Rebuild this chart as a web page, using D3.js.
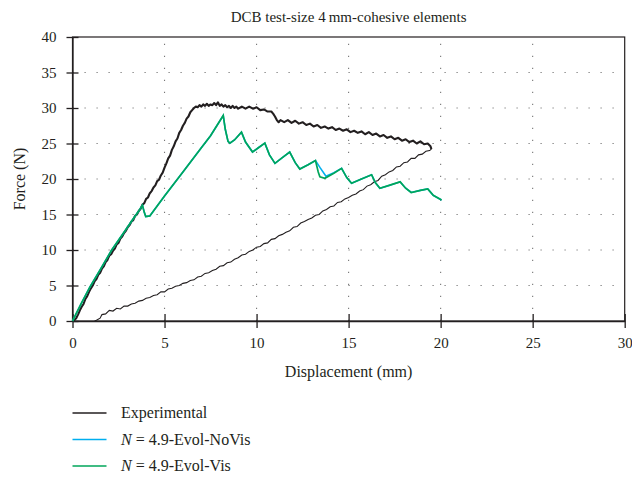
<!DOCTYPE html>
<html><head><meta charset="utf-8">
<script src="https://cdn.jsdelivr.net/npm/d3@7"></script>
<style>body{margin:0;background:#fff}svg{display:block}text{font-family:"Liberation Serif","DejaVu Serif",serif;fill:#231f20}</style>
</head><body>
<svg id="c" width="632" height="478"></svg>
<script>
const title = "DCB test-size 4\u2009mm-cohesive elements";
const xTicks = [0,5,10,15,20,25,30];
const yTicks = [0,5,10,15,20,25,30,35,40];
const seriesNames = ["Experimental","N = 4.9-Evol-NoVis","N = 4.9-Evol-Vis"];

// Experimental: loading + softening (noisy, thick)
const expLoadX = [0.05,0.2,0.3,0.4,0.5,0.6,0.7,0.8,0.9,1.0,1.1,1.2,1.3,1.4,1.5,1.6,1.7,1.8,1.9,2.0,2.1,2.2,2.3,2.4,2.5,2.6,2.7,2.8,2.9,3.0,3.1,3.2,3.3,3.4,3.5,3.6,3.7,3.8,3.9,4.0,4.1,4.2,4.3,4.4,4.5,4.6,4.7,4.8,4.9,5.0,5.1,5.2,5.3,5.4,5.5,5.6,5.7,5.8,5.9,6.0,6.1,6.2,6.3,6.4,6.5,6.6,6.7,6.8,6.9,7.0,7.1,7.2,7.3,7.4,7.5,7.6,7.7,7.8,7.9,8.0,8.1,8.2,8.3,8.4,8.5,8.6,8.7,8.8,8.9,9.0,9.2,9.4,9.6,9.8,10.0,10.2,10.4,10.6,10.8,10.9,11.0,11.1,11.2,11.3,11.5,11.7,11.9,12.1,12.3,12.5,12.7,12.9,13.1,13.3,13.5,13.7,13.9,14.1,14.3,14.5,14.7,14.9,15.1,15.3,15.5,15.7,15.9,16.1,16.3,16.5,16.7,16.9,17.1,17.3,17.5,17.7,17.9,18.1,18.3,18.5,18.7,18.9,19.1,19.3,19.45,19.5];
const expLoadY = [0,0.4,0.9,1.5,2.0,2.4,3.1,3.5,4.1,4.6,5.0,5.6,5.9,6.5,6.8,7.4,7.7,8.3,8.6,9.2,9.4,9.9,10.2,10.8,11.0,11.6,11.9,12.4,12.7,13.2,13.5,14.0,14.2,14.8,15.0,15.5,15.8,16.4,16.6,17.2,17.4,18.0,18.3,18.8,19.1,19.7,19.9,20.5,20.9,21.6,22.2,22.9,23.3,24.1,24.6,25.3,25.7,26.5,26.9,27.5,27.9,28.5,28.8,29.4,29.7,30.0,30.2,30.1,30.4,30.2,30.5,30.3,30.6,30.3,30.5,30.4,30.7,30.4,30.8,30.3,30.5,30.2,30.4,30.1,30.3,30.0,30.3,30.0,30.2,29.9,30.2,29.9,30.2,29.9,30.1,29.7,29.8,29.5,29.5,29.2,28.8,28.3,28.0,28.3,28.0,28.3,27.9,28.2,27.8,28.0,27.6,27.8,27.4,27.6,27.2,27.4,27.1,27.3,26.9,27.1,26.8,27.0,26.6,26.8,26.5,26.7,26.3,26.6,26.2,26.4,26.0,26.2,25.8,26.0,25.6,25.8,25.4,25.6,25.2,25.4,25.0,25.3,24.9,25.0,24.6,24.2];
// Experimental: unloading (thin)
const expUnX = [19.5,19.4,19.2,19.0,18.8,18.6,18.4,18.2,18.0,17.8,17.6,17.4,17.2,17.0,16.8,16.6,16.4,16.2,16.0,15.8,15.6,15.4,15.2,15.0,14.8,14.6,14.4,14.2,14.0,13.8,13.6,13.4,13.2,13.0,12.8,12.6,12.4,12.2,12.0,11.8,11.6,11.4,11.2,11.0,10.8,10.6,10.4,10.2,10.0,9.8,9.6,9.4,9.2,9.0,8.8,8.6,8.4,8.2,8.0,7.8,7.6,7.4,7.2,7.0,6.8,6.6,6.4,6.2,6.0,5.8,5.6,5.4,5.2,5.0,4.8,4.6,4.4,4.2,4.0,3.8,3.6,3.4,3.2,3.0,2.8,2.6,2.4,2.2,2.0,1.8,1.6,1.5,1.3,1.2];
const expUnY = [24.2,24.0,23.9,23.5,23.4,22.9,22.9,22.4,22.3,21.8,21.7,21.2,21.0,20.6,20.4,19.8,19.6,19.2,19.0,18.5,18.3,17.9,17.7,17.4,17.2,16.8,16.7,16.2,16.1,15.7,15.5,15.0,14.9,14.5,14.3,14.0,13.8,13.3,13.2,12.7,12.5,12.2,12.0,11.6,11.5,11.0,10.9,10.5,10.4,10.0,9.8,9.4,9.3,8.9,8.7,8.3,8.2,7.8,7.7,7.3,7.1,6.8,6.7,6.3,6.2,5.8,5.7,5.4,5.3,5.0,4.9,4.6,4.5,4.1,4.1,3.7,3.6,3.3,3.2,2.9,2.8,2.5,2.4,2.1,2.1,1.7,1.8,1.4,1.5,1.0,0.9,0.4,0.1,0];

// N = 4.9-Evol-Vis
const visX = [0,0.5,0.95,1.5,2.13,2.8,3.3,3.6,3.8,3.9,3.98,4.2,5.0,6.0,7.0,7.5,8.19,8.3,8.45,8.55,8.8,9.18,9.4,9.78,10.1,10.45,10.7,11.0,11.4,11.8,12.1,12.35,12.8,13.2,13.35,13.44,13.71,14.2,14.62,14.9,15.16,15.7,16.25,16.45,16.7,17.2,17.8,18.1,18.4,18.9,19.3,19.6,20.05];
const visY = [0,2.6,4.8,7.2,10.0,12.5,14.4,15.5,16.3,15.3,14.7,14.8,17.6,21.0,24.4,26.1,28.95,27.0,25.3,25.05,25.5,26.6,25.2,23.8,24.4,25.05,23.4,22.2,23.0,23.8,22.3,21.4,22.0,22.6,21.0,20.3,20.1,20.8,21.5,20.2,19.4,20.0,20.6,19.5,18.7,19.1,19.6,18.7,18.1,18.4,18.6,17.7,17.05];
// N = 4.9-Evol-NoVis
const noVisX = [0,0.5,0.95,1.5,2.13,2.8,3.3,3.6,3.8,3.9,3.98,4.2,5.0,6.0,7.0,7.5,8.19,8.3,8.45,8.55,8.8,9.18,9.4,9.78,10.1,10.45,10.7,11.0,11.4,11.8,12.1,12.35,12.8,13.2,13.45,13.77,14.2,14.62,14.9,15.16,15.7,16.25,16.45,16.7,17.2,17.8,18.1,18.4,18.9,19.3,19.6,20.05];
const noVisY = [0,2.6,4.8,7.2,10.0,12.5,14.4,15.5,16.3,15.3,14.7,14.8,17.6,21.0,24.4,26.1,28.95,27.0,25.3,25.05,25.5,26.6,25.2,23.8,24.4,25.05,23.4,22.2,23.0,23.8,22.3,21.4,22.0,22.6,21.6,20.4,20.9,21.5,20.2,19.4,20.0,20.6,19.5,18.7,19.1,19.6,18.7,18.1,18.4,18.6,17.7,17.05];

const colors = {exp:"#231f20", noVis:"#00aeef", vis:"#00a65a"};

const svg = d3.select("#c");
const L=72.5, R=624.7, T=37, B=321;
const x = d3.scaleLinear().domain([0,30]).range([L,R]);
const y = d3.scaleLinear().domain([0,40]).range([B,T]);

// grid
const g = svg.append("g");
g.selectAll(".gx").data(xTicks.filter(d=>d>0&&d<30)).join("line")
  .attr("x1",d=>x(d)).attr("x2",d=>x(d)).attr("y1",B).attr("y2",T)
  .attr("stroke","#777").attr("stroke-width",1.1).attr("stroke-dasharray","1.2,10.8");
g.selectAll(".gy").data(yTicks.filter(d=>d>0&&d<40)).join("line")
  .attr("y1",d=>y(d)).attr("y2",d=>y(d)).attr("x1",L).attr("x2",R)
  .attr("stroke","#777").attr("stroke-width",1.1).attr("stroke-dasharray","1.2,10.8");

// frame
svg.append("rect").attr("x",L).attr("y",T).attr("width",R-L).attr("height",B-T)
  .attr("fill","none").attr("stroke","#231f20").attr("stroke-width",1.2);

// axes
const xAxis = d3.axisBottom(x).tickValues(xTicks).tickSize(7).tickPadding(9).tickSizeOuter(0);
const ax = svg.append("g").attr("transform",`translate(0,${B})`).call(xAxis);
ax.select(".domain").attr("stroke","#231f20").attr("stroke-width",1.3);
ax.selectAll(".tick line").attr("y1",-7).attr("stroke","#231f20").attr("stroke-width",1.3);
ax.selectAll("text").attr("font-size",15).attr("font-family","Liberation Serif").attr("fill","#231f20");

const yAxis = d3.axisLeft(y).tickValues(yTicks).tickSize(6).tickPadding(10).tickSizeOuter(0);
const ay = svg.append("g").attr("transform",`translate(${L},0)`).call(yAxis);
ay.select(".domain").attr("stroke","#231f20").attr("stroke-width",1.3);
ay.selectAll(".tick line").attr("x2",-6).attr("x1",6).attr("stroke","#231f20").attr("stroke-width",1.3);
ay.selectAll("text").attr("font-size",15).attr("font-family","Liberation Serif").attr("fill","#231f20");

// curves
const line = d3.line().x(d=>x(d[0])).y(d=>y(d[1]));
const zip = (a,b)=>a.map((v,i)=>[v,b[i]]);
const plot = svg.append("g");
plot.append("path").attr("d",line(zip(expUnX,expUnY))).attr("fill","none").attr("stroke",colors.exp).attr("stroke-width",1.1);
plot.append("path").attr("d",line(zip(expLoadX,expLoadY))).attr("fill","none").attr("stroke",colors.exp).attr("stroke-width",2.1).attr("stroke-linejoin","round");
plot.append("path").attr("d",line(zip(noVisX,noVisY))).attr("fill","none").attr("stroke",colors.noVis).attr("stroke-width",1.6);
plot.append("path").attr("d",line(zip(visX,visY))).attr("fill","none").attr("stroke",colors.vis).attr("stroke-width",1.7);

// title & labels
svg.append("text").attr("x",(L+R)/2).attr("y",22).attr("text-anchor","middle").attr("font-size",15).text(title);
svg.append("text").attr("x",(L+R)/2).attr("y",377).attr("text-anchor","middle").attr("font-size",16).text("Displacement (mm)");
svg.append("text").attr("transform",`translate(25,${(T+B)/2}) rotate(-90)`).attr("text-anchor","middle").attr("font-size",16).text("Force (N)");

// legend
const leg = svg.append("g");
const legColors = [colors.exp, colors.noVis, colors.vis];
seriesNames.forEach((name,i)=>{
  const yy = 413 + i*26.5;
  leg.append("line").attr("x1",72.5).attr("x2",106.5).attr("y1",yy).attr("y2",yy).attr("stroke",legColors[i]).attr("stroke-width",1.3);
  const t = leg.append("text").attr("x",121).attr("y",yy+5).attr("font-size",16);
  if (name.startsWith("N = ")) {
    t.append("tspan").attr("font-style","italic").text("N");
    t.append("tspan").text(name.slice(1));
  } else t.text(name);
});
</script>
</body></html>
